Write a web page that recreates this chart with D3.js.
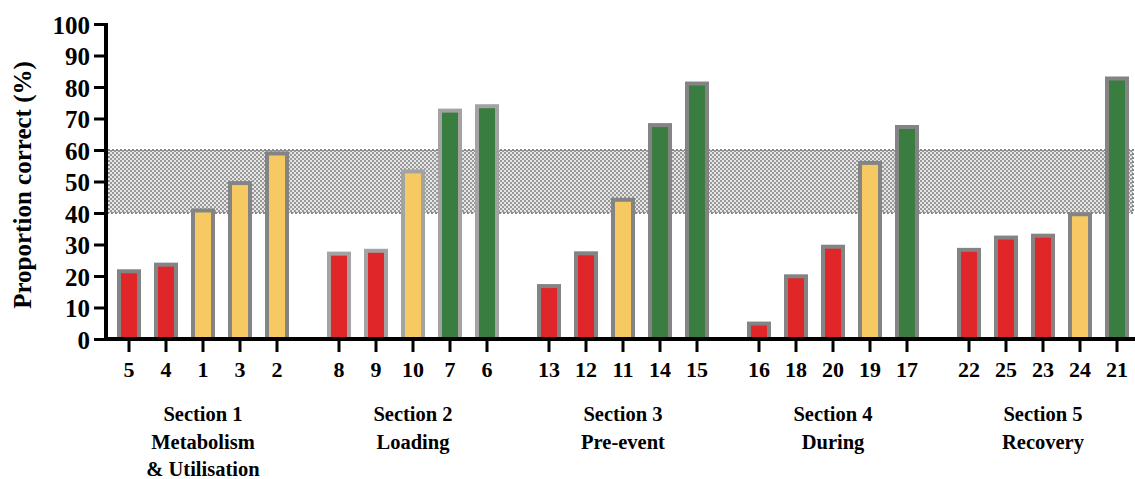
<!DOCTYPE html>
<html>
<head>
<meta charset="utf-8">
<script src="https://cdn.jsdelivr.net/npm/d3@7"></script>
<style>
  html, body { margin: 0; padding: 0; background: #fff; }
  svg { display: block; }
  text { font-family: "Liberation Serif", "Times New Roman", serif; font-weight: bold; fill: #000; }
</style>
</head>
<body>
<svg id="chart" width="1135" height="479"></svg>
<script>
// ---- data ----
const sections = ["Section 1", "Section 2", "Section 3", "Section 4", "Section 5"];
const sectionSubtitles = [["Metabolism", "& Utilisation"], ["Loading"], ["Pre-event"], ["During"], ["Recovery"]];
const questionLabels = [
  ["5", "4", "1", "3", "2"],
  ["8", "9", "10", "7", "6"],
  ["13", "12", "11", "14", "15"],
  ["16", "18", "20", "19", "17"],
  ["22", "25", "23", "24", "21"]
];
const values = [
  [21.5, 23.6, 40.8, 49.5, 58.9],
  [27.1, 28.0, 53.2, 72.5, 73.9],
  [16.8, 27.2, 44.2, 67.9, 81.1],
  [4.9, 19.9, 29.3, 55.9, 67.3],
  [28.3, 32.2, 32.8, 39.6, 82.7]
];
// rating category of each bar: "low" (red), "mid" (yellow), "high" (green)
const ratings = [
  ["low", "low", "mid", "mid", "mid"],
  ["low", "low", "mid", "high", "high"],
  ["low", "low", "mid", "high", "high"],
  ["low", "low", "low", "mid", "high"],
  ["low", "low", "low", "mid", "high"]
];
const yTicks = [0, 10, 20, 30, 40, 50, 60, 70, 80, 90, 100];
const bandRange = [40, 60];

// ---- styles ----
const fillColour = d3.scaleOrdinal().domain(["low", "mid", "high"]).range(["#e1262a", "#f7c962", "#397d41"]);
function strokeFor(si) { return si === 1 ? "#a3a3a3" : "#848484"; }

const svg = d3.select("#chart");

const y = d3.scaleLinear().domain([0, 100]).range([339, 24]);
const xGroup = d3.scaleBand().domain(sections).range([110.5, 1135.5]).paddingInner(25 / 210).paddingOuter(0);
const xInner = d3.scaleBand().domain(d3.range(5)).range([0, xGroup.bandwidth()])
  .paddingInner(17 / 37).paddingOuter(17 / 74);

// checker pattern
const defs = svg.append("defs");
const pat = defs.append("pattern").attr("id", "checker").attr("patternUnits", "userSpaceOnUse")
  .attr("width", 4).attr("height", 4);
pat.append("rect").attr("width", 4).attr("height", 4).attr("fill", "#e6e6e6");
pat.append("rect").attr("x", 0).attr("y", 0).attr("width", 2).attr("height", 2).attr("fill", "#999999");
pat.append("rect").attr("x", 2).attr("y", 2).attr("width", 2).attr("height", 2).attr("fill", "#999999");

// band 40-60
svg.append("rect")
  .attr("x", 108).attr("y", y(bandRange[1]))
  .attr("width", 1133 - 108).attr("height", y(bandRange[0]) - y(bandRange[1]))
  .attr("fill", "url(#checker)")
  .attr("stroke", "#888").attr("stroke-width", 2).attr("stroke-dasharray", "2,2");

// bars
const flat = [];
sections.forEach((s, si) => values[si].forEach((v, qi) =>
  flat.push({ s, si, qi, v, label: questionLabels[si][qi], r: ratings[si][qi] })));

svg.append("g").selectAll("rect").data(flat).join("rect")
  .attr("x", d => xGroup(d.s) + xInner(d.qi))
  .attr("width", xInner.bandwidth())
  .attr("y", d => y(d.v))
  .attr("height", d => y(0) - y(d.v))
  .attr("fill", d => fillColour(d.r))
  .attr("stroke", d => strokeFor(d.si))
  .attr("stroke-width", 4);

// y axis
const yAxis = d3.axisLeft(y).tickValues(yTicks).tickSize(12).tickPadding(4).tickFormat(d3.format("d"));
const gy = svg.append("g").attr("transform", "translate(106,0)").call(yAxis);
gy.select(".domain").attr("stroke", "#000").attr("stroke-width", 4).attr("d", `M0,${y(100) - 1}V${y(0) + 2}`);
gy.selectAll(".tick line").attr("stroke", "#000").attr("stroke-width", 3);
gy.selectAll(".tick text").style("font-size", "25px").attr("dy", "0.36em")
  .style("font-family", "'Liberation Serif', serif").style("font-weight", "bold");

// x axis (question ticks)
const xPos = flat.map(d => xGroup(d.s) + xInner(d.qi) + xInner.bandwidth() / 2);
const xq = d3.scaleOrdinal().domain(flat.map(d => d.s + "|" + d.label)).range(xPos);
const xAxisG = svg.append("g").attr("transform", `translate(0,${y(0)})`);
xAxisG.append("line").attr("x1", 104).attr("x2", 1135).attr("y1", 0).attr("y2", 0)
  .attr("stroke", "#000").attr("stroke-width", 4);
const ticks = xAxisG.selectAll("g.xt").data(flat).join("g").attr("class", "xt")
  .attr("transform", d => `translate(${xq(d.s + "|" + d.label)},0)`);
ticks.append("line").attr("y1", 0).attr("y2", 13).attr("stroke", "#000").attr("stroke-width", 3);
ticks.append("text").attr("y", 38).attr("text-anchor", "middle").style("font-size", "22px").text(d => d.label);

// section labels
const secG = svg.append("g").selectAll("text").data(sections).join("text")
  .attr("x", d => xGroup(d) + xGroup.bandwidth() / 2)
  .attr("y", 421)
  .attr("text-anchor", "middle")
  .style("font-size", "20.5px");
secG.each(function (d, i) {
  const t = d3.select(this);
  const cx = xGroup(d) + xGroup.bandwidth() / 2;
  t.append("tspan").attr("x", cx).attr("dy", 0).text(d);
  sectionSubtitles[i].forEach(line => {
    t.append("tspan").attr("x", cx).attr("dy", 27.5).text(line);
  });
});

// y label
svg.append("text")
  .attr("transform", "translate(31,185) rotate(-90)")
  .attr("text-anchor", "middle")
  .style("font-size", "25px")
  .text("Proportion correct (%)");
</script>
</body>
</html>
